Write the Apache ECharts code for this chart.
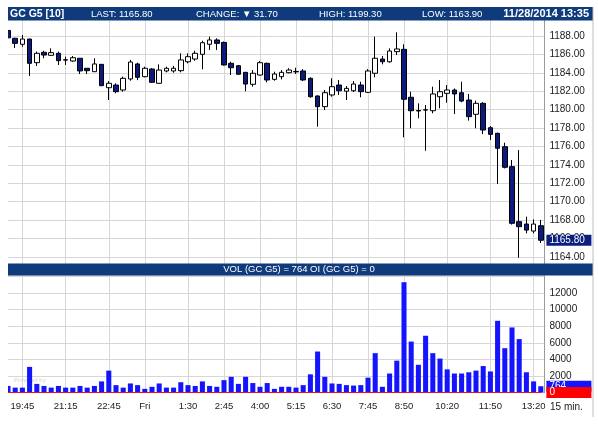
<!DOCTYPE html>
<html>
<head>
<meta charset="utf-8">
<title>GC G5 15 min</title>
<script src="https://cdn.jsdelivr.net/npm/echarts@6/dist/echarts.min.js"></script>
<style>
  html, body { margin: 0; padding: 0; background: #fff; }
  #chart { width: 598px; height: 425px; }
</style>
</head>
<body>
<div id="chart"></div>
<script>
// 15 minute bars, Thu evening session into Friday 11/28/2014
const times = [
  '19:15', '19:30', '19:45', '20:00', '20:15', '20:30', '20:45', '21:00', '21:15', '21:30',
  '21:45', '22:00', '22:15', '22:30', '22:45', '23:00', '23:15', '23:30', '23:45', 'Fri',
  '0:15', '0:30', '0:45', '1:00', '1:15', '1:30', '1:45', '2:00', '2:15', '2:30',
  '2:45', '3:00', '3:15', '3:30', '3:45', '4:00', '4:15', '4:30', '4:45', '5:00',
  '5:15', '5:30', '5:45', '6:00', '6:15', '6:30', '6:45', '7:00', '7:15', '7:30',
  '7:45', '8:00', '8:15', '8:20', '8:35', '8:50', '9:05', '9:20', '9:35', '9:50',
  '10:05', '10:20', '10:35', '10:50', '11:05', '11:20', '11:35', '11:50', '12:05', '12:20',
  '12:35', '12:50', '13:05', '13:20', '13:35'
];
const tickLabels = ['19:45', '21:15', '22:45', 'Fri', '1:30', '2:45', '4:00', '5:15',
  '6:30', '7:45', '8:50', '10:20', '11:50', '13:20'];

const opens = [
  1188.60, 1187.75, 1187.10, 1187.67, 1185.10, 1186.23, 1185.90, 1186.12, 1185.42, 1185.28,
  1185.58, 1184.49, 1184.12, 1184.92, 1182.38, 1182.67, 1182.13, 1183.33, 1184.96, 1183.58,
  1184.41, 1182.86, 1184.20, 1184.20, 1184.23, 1185.20, 1185.50, 1186.01, 1187.10, 1187.57,
  1187.30, 1185.03, 1184.77, 1184.05, 1182.75, 1183.76, 1185.03, 1183.29, 1183.58, 1184.01,
  1184.15, 1184.20, 1183.40, 1181.48, 1180.32, 1181.59, 1182.67, 1182.00, 1182.05, 1182.67,
  1181.88, 1183.95, 1185.50, 1185.20, 1186.30, 1186.55, 1181.34, 1179.90, 1179.95, 1179.88,
  1181.40, 1181.77, 1182.13, 1181.84, 1181.04, 1179.49, 1180.68, 1178.03, 1177.42, 1175.97,
  1173.80, 1167.82, 1167.56, 1166.80, 1167.38
];
const closes = [
  1187.80, 1187.20, 1187.67, 1185.03, 1186.12, 1185.93, 1186.19, 1185.32, 1185.38, 1185.64,
  1184.20, 1184.23, 1184.96, 1182.60, 1182.86, 1181.95, 1183.40, 1185.17, 1183.51, 1184.49,
  1182.97, 1184.30, 1184.49, 1184.49, 1185.40, 1185.75, 1186.12, 1187.27, 1187.57, 1187.20,
  1184.85, 1184.55, 1183.84, 1182.78, 1183.95, 1185.10, 1183.22, 1183.87, 1184.05, 1184.30,
  1184.10, 1183.22, 1181.40, 1180.32, 1181.84, 1182.49, 1182.05, 1182.31, 1182.78, 1181.95,
  1184.20, 1185.58, 1185.20, 1186.37, 1186.59, 1181.12, 1179.88, 1179.85, 1179.98, 1181.70,
  1181.95, 1182.13, 1181.70, 1180.93, 1179.23, 1180.68, 1177.78, 1177.31, 1175.80, 1173.73,
  1167.64, 1167.27, 1166.90, 1167.56, 1165.80
];
const lows = [
  1187.70, 1186.70, 1186.84, 1183.65, 1184.74, 1185.58, 1185.85, 1184.85, 1184.85, 1185.20,
  1183.87, 1183.87, 1184.10, 1182.55, 1181.04, 1181.77, 1181.95, 1183.14, 1183.20, 1183.51,
  1182.90, 1182.80, 1184.05, 1184.00, 1184.05, 1185.03, 1185.30, 1184.38, 1186.48, 1186.48,
  1184.80, 1183.76, 1183.80, 1182.00, 1182.50, 1183.70, 1182.97, 1183.14, 1183.29, 1183.95,
  1183.87, 1183.10, 1181.30, 1178.14, 1179.96, 1181.40, 1181.59, 1181.04, 1181.90, 1181.34,
  1181.80, 1183.51, 1184.92, 1185.10, 1185.93, 1176.99, 1177.97, 1179.05, 1175.53, 1179.60,
  1180.14, 1180.75, 1179.52, 1180.80, 1178.80, 1177.97, 1177.34, 1176.70, 1171.91, 1173.60,
  1167.50, 1163.90, 1166.55, 1166.55, 1165.50
];
const highs = [
  1188.70, 1187.80, 1188.10, 1187.70, 1186.30, 1186.40, 1186.66, 1186.30, 1185.75, 1185.83,
  1185.60, 1184.50, 1185.58, 1184.95, 1183.10, 1182.86, 1183.58, 1185.40, 1185.10, 1184.66,
  1184.50, 1184.92, 1184.66, 1184.75, 1186.12, 1186.12, 1186.40, 1187.49, 1187.93, 1187.75,
  1187.40, 1185.20, 1184.85, 1184.10, 1184.30, 1185.30, 1185.10, 1184.12, 1184.30, 1184.50,
  1184.55, 1184.40, 1183.50, 1181.55, 1182.13, 1183.40, 1183.22, 1182.56, 1183.10, 1183.03,
  1184.40, 1187.93, 1185.83, 1186.66, 1188.40, 1187.10, 1181.95, 1180.68, 1180.50, 1182.49,
  1183.22, 1182.67, 1182.30, 1183.03, 1181.70, 1180.97, 1180.80, 1178.20, 1177.50, 1176.40,
  1174.52, 1175.60, 1168.36, 1168.07, 1168.00
];
const volumes = [
  800, 600, 600, 3100, 1050, 800, 600, 800, 600, 600,
  800, 600, 800, 1350, 2650, 900, 600, 1100, 900, 450,
  700, 1100, 600, 600, 1250, 900, 800, 1350, 800, 700,
  1500, 1900, 1050, 1900, 1150, 700, 1150, 450, 700, 700,
  600, 900, 2200, 4950, 1900, 1100, 1050, 900, 850, 900,
  1800, 4750, 700, 2300, 3850, 13300, 6150, 3350, 6850, 4750,
  4100, 2800, 2300, 2300, 2450, 2650, 3200, 2550, 8650, 5350,
  7850, 6450, 2450, 1350, 764
];
const openInterest = times.map(() => 0);

const symbol = 'GC G5 [10]';
const lastPrice = closes[closes.length - 1];
const change = 31.70;
const dayHigh = 1199.30;
const dayLow = 1163.90;
const stamp = '11/28/2014 13:35';

const FONT = '"Liberation Sans", Arial, sans-serif';
const NAVY = '#0f3b7c';
const GRID_COLOR = '#d7d7d7';
const shown = new Set(tickLabels);
const showTick = (idx, val) => shown.has(val);

const candles = opens.map((o, i) => [o, closes[i], lows[i], highs[i]]);

const chart = echarts.init(document.getElementById('chart'));

function hiddenLine(value, text, bg) {
  return {
    silent: true,
    animation: false,
    symbol: ['none', 'none'],
    lineStyle: { color: 'transparent', width: 0 },
    label: {
      position: 'end', distance: 2, formatter: text,
      color: '#fff', backgroundColor: bg, fontFamily: FONT, fontSize: 10,
      lineHeight: 11, padding: [0, 3], width: 39
    },
    data: [{ yAxis: value }]
  };
}

const headerText = (x, y, text, opts) => Object.assign({
  type: 'text', z: 20, x: x, y: y,
  style: { text: text, fill: '#fff', font: '9.5px ' + FONT, verticalAlign: 'middle' }
}, opts || {});

chart.setOption({
  animation: false,
  backgroundColor: '#fff',
  grid: [
    { left: 4.4, width: 540, top: 17.6, height: 257.6 },
    { left: 4.4, width: 540, top: 276.4, height: 116.2 }
  ],
  xAxis: [
    {
      type: 'category', gridIndex: 0, data: times, boundaryGap: true,
      axisLine: { show: false }, axisTick: { show: false }, axisLabel: { show: false },
      splitLine: { show: true, alignWithLabel: true, interval: showTick, lineStyle: { color: GRID_COLOR } }
    },
    {
      type: 'category', gridIndex: 1, data: times, boundaryGap: true,
      axisLine: { show: false }, axisTick: { show: false },
      axisLabel: { show: true, interval: showTick, margin: 9, color: '#222', fontFamily: FONT, fontSize: 9.5 },
      splitLine: { show: true, alignWithLabel: true, interval: showTick, lineStyle: { color: GRID_COLOR } }
    }
  ],
  yAxis: [
    {
      type: 'value', gridIndex: 0, position: 'right', min: 1162, max: 1190, interval: 2,
      axisLine: { show: true, lineStyle: { color: '#9a9a9a' } }, axisTick: { show: false },
      splitLine: { lineStyle: { color: GRID_COLOR } },
      axisLabel: {
        margin: 5, color: '#222', fontFamily: FONT, fontSize: 10,
        formatter: v => (v > 1162 && v < 1190) ? v.toFixed(2) : ''
      }
    },
    {
      type: 'value', gridIndex: 1, position: 'right', min: 0, max: 14000, interval: 2000,
      axisLine: { show: true, lineStyle: { color: '#9a9a9a' } }, axisTick: { show: false },
      splitLine: { lineStyle: { color: GRID_COLOR } },
      axisLabel: {
        margin: 5, color: '#222', fontFamily: FONT, fontSize: 10,
        formatter: v => (v > 0 && v < 14000) ? String(v) : ''
      }
    }
  ],
  series: [
    {
      type: 'candlestick', xAxisIndex: 0, yAxisIndex: 0, data: candles, barWidth: '70%',
      itemStyle: { color: '#ffffff', color0: '#0c1a80', borderColor: '#000', borderColor0: '#000', borderWidth: 1 },
      markLine: hiddenLine(lastPrice, lastPrice.toFixed(2), '#0b1f7c')
    },
    {
      type: 'bar', xAxisIndex: 1, yAxisIndex: 1, data: volumes, barWidth: '70%',
      itemStyle: { color: '#1414ff' },
      markLine: hiddenLine(volumes[volumes.length - 1], String(volumes[volumes.length - 1]), '#1414ff')
    },
    {
      type: 'line', xAxisIndex: 1, yAxisIndex: 1, data: openInterest, z: 4,
      symbol: 'none', lineStyle: { color: '#ff0000', width: 1 },
      markLine: hiddenLine(openInterest[openInterest.length - 1], String(openInterest[openInterest.length - 1]), '#ff0000')
    }
  ],
  graphic: {
    elements: [
      { type: 'rect', z: 15, shape: { x: 0, y: 17, width: 8, height: 385 }, style: { fill: '#fff' } },
      { type: 'rect', z: 18, shape: { x: 8, y: 7, width: 585, height: 13.5 }, style: { fill: NAVY } },
      { type: 'rect', z: 18, shape: { x: 8, y: 263.5, width: 585, height: 12 }, style: { fill: NAVY } },
      { type: 'line', z: 18, shape: { x1: 593, y1: 7, x2: 593, y2: 417 }, style: { stroke: '#bdbdbd', lineWidth: 1 } },
      headerText(10, 14, symbol, { style: { text: symbol, fill: '#fff', font: 'bold 10.5px ' + FONT, verticalAlign: 'middle' } }),
      headerText(91, 14, 'LAST: ' + lastPrice.toFixed(2)),
      headerText(196, 14, 'CHANGE: \u25BC ' + change.toFixed(2)),
      headerText(319, 14, 'HIGH: ' + dayHigh.toFixed(2)),
      headerText(422, 14, 'LOW: ' + dayLow.toFixed(2)),
      headerText(589, 14, stamp, { style: { text: stamp, fill: '#fff', font: 'bold 11px ' + FONT, align: 'right', verticalAlign: 'middle' } }),
      headerText(299, 269.8, 'VOL (GC G5) = ' + volumes[volumes.length - 1] + ' OI (GC G5) = ' + openInterest[openInterest.length - 1],
        { style: { text: 'VOL (GC G5) = ' + volumes[volumes.length - 1] + ' OI (GC G5) = ' + openInterest[openInterest.length - 1],
          fill: '#fff', font: '9.5px ' + FONT, align: 'center', verticalAlign: 'middle' } }),
      { type: 'text', z: 20, x: 550, y: 407, style: { text: '15 min.', fill: '#222', font: '10px ' + FONT, verticalAlign: 'middle' } },
      { type: 'text', z: 1, x: 14, y: 380, style: { text: 'Provided by', fill: '#d4d4c4', font: '6px ' + FONT, verticalAlign: 'middle' } }
    ]
  }
});
</script>
</body>
</html>
